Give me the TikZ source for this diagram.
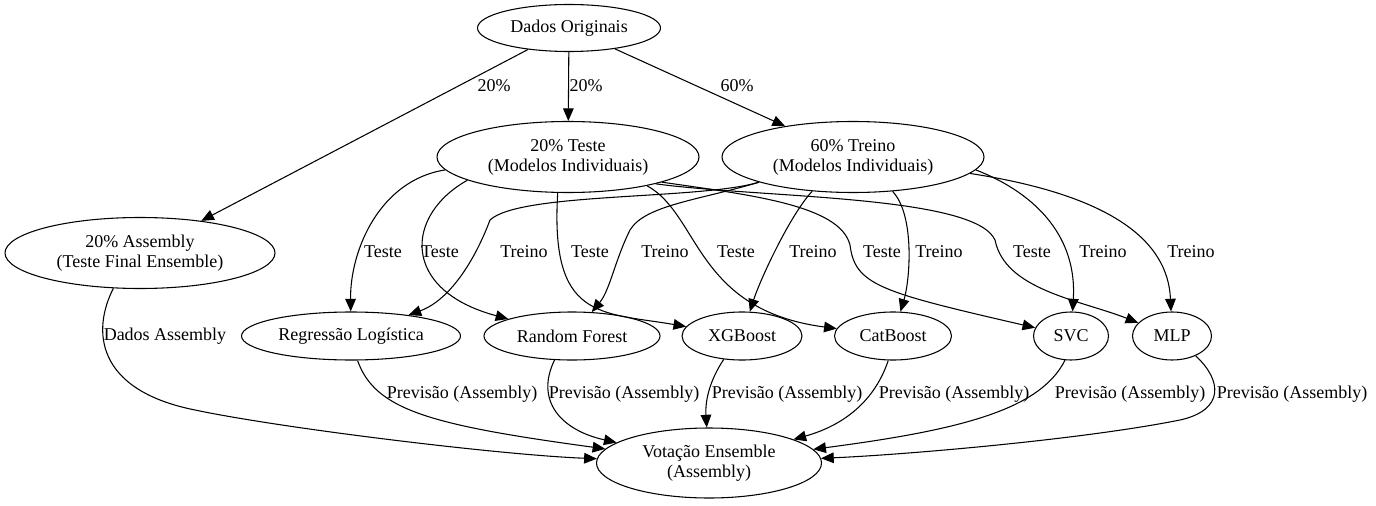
\documentclass[tikz,border=0pt]{standalone}
\usepackage{fontspec}
\setmainfont{Liberation Serif}
\usetikzlibrary{shapes.geometric,arrows.meta}

\begin{document}
\begin{tikzpicture}[x=0.75pt, y=-0.75pt,
  every node/.style={font=\rmfamily\fontsize{13.5}{15}\selectfont, align=center},
  gvnode/.style 2 args={draw, ellipse, line width=0.8pt, inner sep=0pt,
    minimum width=#1*0.75pt, minimum height=#2*0.75pt},
  edge/.style={->, >={Triangle[length=9.5pt,width=8pt]}, line width=0.8pt}]

\def \row {252}
\def \prow {394}

\useasboundingbox (0,0) rectangle (1376,506);

\node (orig) [gvnode={183}{47}] at (569,28) {Dados Originais};
\node (teste) [gvnode={262}{71}] at (568,157) {20\% Teste\\(Modelos Individuais)};
\node (treino) [gvnode={262}{71}] at (853,157) {60\% Treino\\(Modelos Individuais)};
\node (assembly) [gvnode={270}{71}] at (140,253) {20\% Assembly\\(Teste Final Ensemble)};

\node (lr) [gvnode={219}{48}] at (351,336) {Regressão Logística};
\node (rf) [gvnode={176}{48}] at (572,336) {Random Forest};
\node (xgb) [gvnode={120}{48}] at (742,336) {XGBoost};
\node (cat) [gvnode={117}{48}] at (893,336) {CatBoost};
\node (svc) [gvnode={75}{48}] at (1071,336) {SVC};
\node (mlp) [gvnode={79}{48}] at (1172,336) {MLP};

\node (vote) [gvnode={225}{70}] at (709,463) {Votação Ensemble\\(Assembly)};

% split
\draw[edge] (orig) -- (assembly) node (s1) at (494,86) {20\%};
\draw[edge] (orig) -- (teste) node (s2) at (586,86) {20\%};
\draw[edge] (orig) -- (treino) node (s3) at (737,86) {60\%};

% teste set
\draw[edge] (teste.186) .. controls (380,180) and (350,250) .. (lr) node (t1) at (383,\row) {Teste};
\draw[edge] (teste.193) .. controls (405,215) and (400,290) .. (rf) node (t2) at (440,\row) {Teste};
\draw[edge] (teste.254) .. controls (550,320) and (600,312) .. (xgb) node (t3) at (590,\row) {Teste};
\draw[edge] (teste.340) .. controls (700,215) and (695,310) .. (cat) node (t4) at (736,\row) {Teste};
\draw[edge] (teste.345) .. controls (750,195) and (840,205) .. (850,245)
  .. controls (855,285) and (880,292) .. (svc) node (t5) at (882,\row) {Teste};
\draw[edge] (teste.343) .. controls (760,198) and (975,195) .. (995,240)
  .. controls (1005,290) and (1080,300) .. (mlp) node (t6) at (1032,\row) {Teste};

% treino set
\draw[edge] (treino.195) .. controls (700,200) and (520,192) .. (490,220)
  .. controls (475,260) and (450,300) .. (lr) node (r1) at (524,\row) {Treino};
\draw[edge] (treino.195) .. controls (700,200) and (645,205) .. (630,230)
  .. controls (615,260) and (610,290) .. (rf) node (r2) at (665,\row) {Treino};
\draw[edge] (treino.220) .. controls (790,215) and (760,280) .. (xgb) node (r3) at (813,\row) {Treino};
\draw[edge] (treino.319) .. controls (915,215) and (910,280) .. (cat) node (r4) at (939,\row) {Treino};
\draw[edge] (treino.354) .. controls (1040,195) and (1077,240) .. (svc) node (r5) at (1103,\row) {Treino};
\draw[edge] (treino.352) .. controls (1110,195) and (1168,240) .. (mlp) node (r6) at (1191,\row) {Treino};

% votes
\draw[edge] (assembly.233) .. controls (92,330) and (95,390) .. (195,410)
  .. controls (280,428) and (500,455) .. (vote) node (da) at (165,336) {Dados Assembly};
\draw[edge] (lr.285) .. controls (375,410) and (430,425) .. (vote) node (p1) at (462,\prow) {Previsão (Assembly)};
\draw[edge] (rf.234) .. controls (535,400) and (560,430) .. (vote) node (p2) at (624,\prow) {Previsão (Assembly)};
\draw[edge] (xgb.232) .. controls (710,380) and (705,400) .. (vote) node (p3) at (787,\prow) {Previsão (Assembly)};
\draw[edge] (cat.259) .. controls (875,400) and (845,425) .. (vote) node (p4) at (954,\prow) {Previsão (Assembly)};
\draw[edge] (svc.256) .. controls (1040,410) and (960,430) .. (vote) node (p5) at (1130,\prow) {Previsão (Assembly)};
\draw[edge] (mlp.320) .. controls (1222,380) and (1225,410) .. (1180,420)
  .. controls (1080,440) and (900,455) .. (vote) node (p6) at (1292,\prow) {Previsão (Assembly)};

\end{tikzpicture}
\end{document}
